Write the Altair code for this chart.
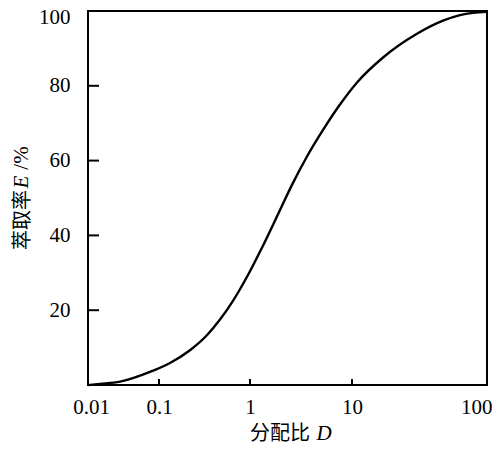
import altair as alt
import pandas as pd

# Curve: distribution ratio D vs extraction rate E (%)
D = [0.01, 0.0148, 0.0283, 0.0746, 0.132, 0.219, 0.336, 0.468, 0.650, 0.776,
     1.0, 1.31, 1.97, 2.58, 3.62, 5.20, 7.62, 10.9, 16.9, 30.3, 47.2, 63.1, 78.7, 100]
E = [0, 0.3, 0.9, 3.5, 5.9, 9.3, 13.3, 17.5, 22.5, 25.6,
     30.4, 36.7, 46.8, 53.5, 61.1, 68.2, 75.0, 80.9, 87.5, 93.9, 97.4, 98.9, 99.5, 99.8]

x_labels = [0.01, 0.1, 1, 10, 100]
x_ticks = [0.1, 1, 10]
y_labels = [20, 40, 60, 80, 100]
y_ticks = [20, 40, 60, 80]

x_title = "分配比"
x_title_var = "D"
y_title = "萃取率"
y_title_var = "E"
y_title_unit = "/%"

W, H = 399, 374
SERIF = "Liberation Serif"
CJK = "Noto Sans CJK SC"

# the printed log axis has unequal decades; mirror it with a piecewise log scale
xscale = alt.Scale(type="log", domain=x_labels, range=[0, 71, 162, 264, 399], nice=False)
yscale = alt.Scale(domain=[0, 100], nice=False, zero=False)

curve_df = pd.DataFrame({"D": D, "E": E})

curve = alt.Chart(curve_df).mark_line(color="black", strokeWidth=2.4, interpolate="monotone").encode(
    x=alt.X("D:Q", scale=xscale,
            axis=alt.Axis(values=x_labels, format="~g", title=None, domain=False, ticks=False,
                          tickSize=0, grid=False, labelFont=SERIF, labelFontSize=21,
                          labelColor="black", labelPadding=11, labelFlush=False,
                          labelOverlap=False,
                          labelAlign={"expr": "datum.value == 100 ? 'right' : 'center'"},
                          labelOffset={"expr": "datum.value == 100 ? 5 : (datum.value == 0.01 ? 3 : 0)"})),
    y=alt.Y("E:Q", scale=yscale,
            axis=alt.Axis(values=y_labels, title=None, domain=False, ticks=False, tickSize=0,
                          grid=False, labelFont=SERIF, labelFontSize=21, labelColor="black",
                          labelPadding=18, labelFlush=False, labelOverlap=False,
                          labelOffset={"expr": "datum.value == 100 ? 6 : 0"})),
)

xt = alt.Chart(pd.DataFrame({"D": x_ticks})).mark_rule(color="black", strokeWidth=2).encode(
    x=alt.X("D:Q", scale=xscale), y=alt.value(H), y2=alt.value(H - 6)
)
yt = alt.Chart(pd.DataFrame({"E": y_ticks})).mark_rule(color="black", strokeWidth=2).encode(
    y=alt.Y("E:Q", scale=yscale), x=alt.value(0), x2=alt.value(11)
)

def label(text, x, y, font, size, style="normal", angle=0):
    return alt.Chart(pd.DataFrame({"t": [text]})).mark_text(
        font=font, fontSize=size, fontStyle=style, angle=angle, color="black",
        align="center", baseline="middle"
    ).encode(text="t:N", x=alt.value(x), y=alt.value(y))

titles = [
    label(x_title, 192, 423, CJK, 20),
    label(x_title_var, 236, 423, SERIF, 21, "italic"),
    label(y_title, -65, 209, CJK, 20, angle=270),
    label(y_title_var, -66, 171, SERIF, 21, "italic", angle=270),
    label(y_title_unit, -66, 147, SERIF, 21, angle=270),
]

chart = alt.layer(curve, xt, yt, *titles).properties(
    width=W, height=H,
    autosize=alt.AutoSizeParams(type="none"),
    padding={"left": 80, "top": 3, "right": 5, "bottom": 63},
).configure_view(stroke="black", strokeWidth=2)

chart.save("out.html", embed_options={"renderer": "svg", "actions": False})
